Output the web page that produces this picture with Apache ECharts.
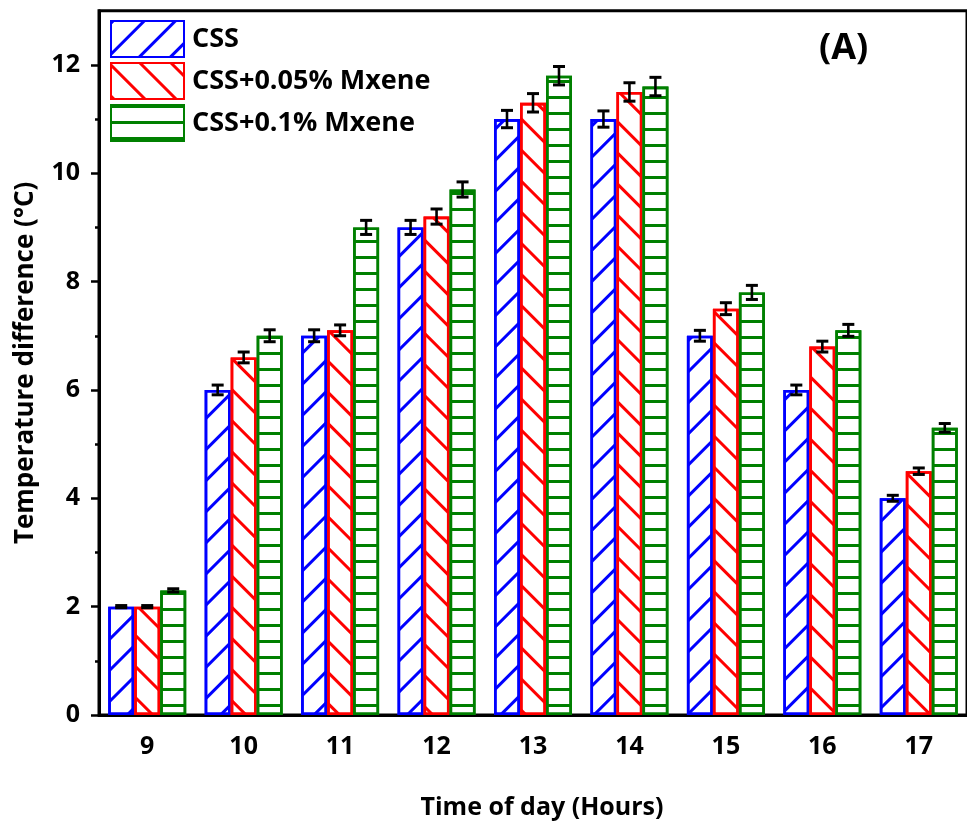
<!DOCTYPE html>
<html>
<head>
<meta charset="utf-8">
<script src="https://cdn.jsdelivr.net/npm/echarts@6/dist/echarts.min.js"></script>
<style>
  html, body { margin: 0; padding: 0; background: #fff; }
  #chart { width: 967px; height: 825px; }
</style>
</head>
<body>
<div id="chart"></div>
<script>
// categories
const hours = ["9", "10", "11", "12", "13", "14", "15", "16", "17"];
// series values
const css = [2.0, 6.0, 7.0, 9.0, 11.0, 11.0, 7.0, 6.0, 4.0];
const css005 = [2.0, 6.6, 7.1, 9.2, 11.3, 11.5, 7.5, 6.8, 4.5];
const css01 = [2.3, 7.0, 9.0, 9.7, 11.8, 11.6, 7.8, 7.1, 5.3];
// error bars (+/-)
const errCss = [0.02, 0.09, 0.11, 0.13, 0.16, 0.15, 0.1, 0.09, 0.055];
const errCss005 = [0.02, 0.1, 0.1, 0.14, 0.17, 0.17, 0.11, 0.1, 0.06];
const errCss01 = [0.03, 0.11, 0.13, 0.14, 0.17, 0.17, 0.13, 0.11, 0.08];
// tick labels
const yMajorTicks = [0, 2, 4, 6, 8, 10, 12];
const yMinorTicks = [1, 3, 5, 7, 9, 11];

const FONT = "'Open Sans', 'Noto Sans', sans-serif";
const BAR_W = 26;

let chart = echarts.init(document.getElementById("chart"));

// hatch pattern for each series
function hatch(color, rotation, dashY) {
  return {
    symbol: "rect",
    symbolSize: 1,
    color: color,
    dashArrayX: [1, 0],
    dashArrayY: dashY,
    rotation: rotation
  };
}

function barSeries(name, data, color, decal) {
  return {
    name: name,
    type: "bar",
    data: data,
    barWidth: BAR_W,
    barGap: "0%",
    itemStyle: {
      color: "#ffffff",
      borderColor: color,
      borderWidth: 2.6,
      decal: decal
    }
  };
}

// error bars drawn next to bar centres
function errorSeries(values, errors, offset) {
  return {
    type: "custom",
    silent: true,
    z: 10,
    data: values.map((v, i) => [i, v, errors[i]]),
    encode: { x: 0, y: 1 },
    renderItem: function (params, api) {
      let idx = api.value(0);
      let v = api.value(1);
      let e = api.value(2);
      let hi = api.coord([idx, v + e]);
      let lo = api.coord([idx, v - e]);
      let x = hi[0] + offset;
      let capStyle = { stroke: "#000", lineWidth: 3 };
      return {
        type: "group",
        children: [
          { type: "line", shape: { x1: x, y1: hi[1], x2: x, y2: lo[1] }, style: { stroke: "#000", lineWidth: 2.6 } },
          { type: "line", shape: { x1: x - 6, y1: hi[1], x2: x + 6, y2: hi[1] }, style: capStyle },
          { type: "line", shape: { x1: x - 6, y1: lo[1], x2: x + 6, y2: lo[1] }, style: capStyle }
        ]
      };
    }
  };
}

chart.setOption({
  animation: false,
  grid: {
    left: 99,
    right: -6,
    top: 10.7,
    bottom: 108.3,
    show: true,
    borderColor: "#000",
    borderWidth: 3,
    backgroundColor: "transparent"
  },
  legend: {
    orient: "vertical",
    left: 110,
    top: 20,
    padding: 0,
    itemWidth: 73,
    itemHeight: 36,
    itemGap: 4,
    icon: "rect",
    selectedMode: false,
    textStyle: { fontFamily: FONT, fontWeight: "bold", fontSize: 27, lineHeight: 36, color: "#000", padding: [0, 0, 0, 3] },
    data: ["CSS", "CSS+0.05% Mxene", "CSS+0.1% Mxene"]
  },
  graphic: [
    {
      type: "text",
      left: 819,
      top: 31,
      style: { text: "(A)", fontFamily: FONT, fontWeight: "bold", fontSize: 36, fill: "#000" }
    }
  ],
  xAxis: [
    {
      type: "category",
      data: hours,
      position: "bottom",
      name: "Time of day (Hours)",
      nameLocation: "middle",
      nameGap: 80,
      nameTextStyle: { fontFamily: FONT, fontWeight: "bold", fontSize: 25, color: "#000", padding: [0, 0, 0, 18] },
      axisLine: { lineStyle: { color: "#000", width: 3 } },
      axisTick: { alignWithLabel: true, length: 7, lineStyle: { color: "#000", width: 2.5 } },
      axisLabel: { margin: 19, fontFamily: FONT, fontWeight: "bold", fontSize: 25, color: "#000" },
      splitLine: { show: false }
    },
    {
      type: "category",
      data: hours,
      position: "bottom",
      axisLine: { show: false },
      axisTick: { length: 4, lineStyle: { color: "#000", width: 2.5 } },
      axisLabel: { show: false },
      splitLine: { show: false }
    }
  ],
  yAxis: [
    {
      type: "value",
      min: 0,
      max: 13,
      position: "left",
      name: "Temperature difference (\u00B0C)",
      nameLocation: "middle",
      nameRotate: 90,
      nameGap: 60,
      nameTextStyle: { fontFamily: FONT, fontWeight: "bold", fontSize: 26, color: "#000" },
      axisLine: { show: true, lineStyle: { color: "#000", width: 3 } },
      axisTick: { show: true, length: 8, customValues: yMajorTicks, lineStyle: { color: "#000", width: 2.5 } },
      axisLabel: { margin: 19, customValues: yMajorTicks, fontFamily: FONT, fontWeight: "bold", fontSize: 25, color: "#000" },
      splitLine: { show: false }
    },
    {
      type: "value",
      min: 0,
      max: 13,
      position: "left",
      axisLine: { show: false },
      axisTick: { show: true, length: 4, customValues: yMinorTicks, lineStyle: { color: "#000", width: 2.5 } },
      axisLabel: { show: false },
      splitLine: { show: false }
    }
  ],
  series: [
    barSeries("CSS", css, "#0000ff", hatch("#0000ff", -Math.PI / 4, [3, 19])),
    barSeries("CSS+0.05% Mxene", css005, "#ff0000", hatch("#ff0000", Math.PI / 4, [3, 19])),
    barSeries("CSS+0.1% Mxene", css01, "#008000", hatch("#008000", 0, [3, 13])),
    errorSeries(css, errCss, -BAR_W),
    errorSeries(css005, errCss005, 0),
    errorSeries(css01, errCss01, BAR_W)
  ]
});
</script>
</body>
</html>
